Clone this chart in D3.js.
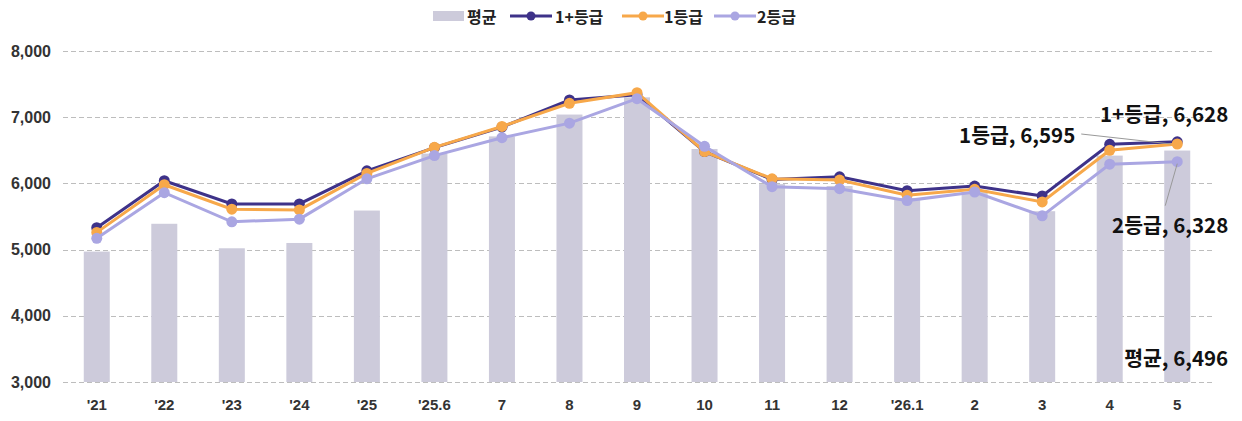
<!DOCTYPE html>
<html>
<head>
<meta charset="utf-8">
<script src="https://cdn.jsdelivr.net/npm/d3@7"></script>
<style>
  body { margin: 0; background: #fff; }
  svg { display: block; font-family: "Noto Sans CJK KR", "Noto Sans", sans-serif; }
</style>
</head>
<body>
<svg id="canvas"></svg>
<script>
// data
let categories = ["'21", "'22", "'23", "'24", "'25", "'25.6", "7", "8", "9", "10", "11", "12", "'26.1", "2", "3", "4", "5"];
let avgValues = [4970, 5390, 5020, 5100, 5590, 6450, 6710, 7040, 7300, 6520, 5990, 5960, 5780, 5870, 5580, 6420, 6496];
let grade1pValues = [5330, 6040, 5690, 5690, 6190, 6540, 6850, 7260, 7340, 6480, 6060, 6100, 5890, 5960, 5810, 6590, 6628];
let grade1Values = [5260, 5980, 5610, 5600, 6150, 6545, 6860, 7210, 7370, 6480, 6070, 6050, 5820, 5910, 5720, 6500, 6595];
let grade2Values = [5170, 5860, 5420, 5460, 6070, 6420, 6690, 6910, 7280, 6560, 5950, 5920, 5740, 5870, 5510, 6290, 6328];
let yTicks = [3000, 4000, 5000, 6000, 7000, 8000];

let width = 1242;
let height = 421;

let barColor = "#cdcbdb";
let series = [
  { name: "1+등급", values: grade1pValues, color: "#3e3289" },
  { name: "1등급", values: grade1Values, color: "#f7a84a" },
  { name: "2등급", values: grade2Values, color: "#aaa6e2" }
];

let canvas = d3.select("#canvas").attr("width", width).attr("height", height);

let xScale = d3.scaleBand()
  .domain(categories)
  .range([63, 1211])
  .paddingInner(0.615)
  .paddingOuter(0.3075);

let yScale = d3.scaleLinear()
  .domain([3000, 8000])
  .range([382, 51]);

let cx = (d) => xScale(d) + xScale.bandwidth() / 2;

// gridlines
canvas.append("g")
  .selectAll("line")
  .data(yTicks)
  .enter()
  .append("line")
  .attr("x1", 63)
  .attr("x2", 1212)
  .attr("y1", (d) => Math.round(yScale(d)) + 0.5)
  .attr("y2", (d) => Math.round(yScale(d)) + 0.5)
  .attr("stroke", "#bdbdbd")
  .attr("stroke-dasharray", "5,3");

// y axis labels
let yAxis = d3.axisLeft(yScale).tickValues(yTicks).tickFormat(d3.format(",")).tickSize(0).tickPadding(0);
let yG = canvas.append("g")
  .attr("transform", "translate(51, 0)")
  .call(yAxis);
yG.select(".domain").remove();
yG.selectAll("text")
  .attr("font-size", 16)
  .attr("font-weight", "bold")
  .attr("fill", "#333");

// x axis labels
let xAxis = d3.axisBottom(xScale).tickSize(0).tickPadding(0);
let xG = canvas.append("g")
  .attr("transform", "translate(0, 399)")
  .call(xAxis);
xG.select(".domain").remove();
xG.selectAll("text")
  .attr("font-size", 15)
  .attr("font-weight", "bold")
  .attr("fill", "#333");

// bars
canvas.append("g")
  .selectAll("rect")
  .data(avgValues)
  .enter()
  .append("rect")
  .attr("x", (d, i) => xScale(categories[i]))
  .attr("width", xScale.bandwidth())
  .attr("y", (d) => yScale(d))
  .attr("height", (d) => yScale(3000) - yScale(d))
  .attr("fill", barColor);

// lines
let line = d3.line()
  .x((d, i) => cx(categories[i]))
  .y((d) => yScale(d));

series.forEach((s) => {
  let g = canvas.append("g");
  g.append("path")
    .datum(s.values)
    .attr("d", line)
    .attr("fill", "none")
    .attr("stroke", s.color)
    .attr("stroke-width", 3);
  g.selectAll("circle")
    .data(s.values)
    .enter()
    .append("circle")
    .attr("cx", (d, i) => cx(categories[i]))
    .attr("cy", (d) => yScale(d))
    .attr("r", 5.5)
    .attr("fill", s.color);
});

// end labels
let last = categories.length - 1;
let lastX = cx(categories[last]);
let fmt = d3.format(",");
let labelFont = 20.5;

let addLabel = (text, x, y, anchor) => {
  canvas.append("text")
    .attr("x", x)
    .attr("y", y)
    .attr("text-anchor", anchor)
    .attr("dominant-baseline", "central")
    .attr("font-size", labelFont)
    .attr("font-weight", "bold")
    .attr("fill", "#111")
    .text(text);
};

let leader = (x1, y1, x2, y2) => {
  canvas.append("line")
    .attr("x1", x1).attr("y1", y1)
    .attr("x2", x2).attr("y2", y2)
    .attr("stroke", "#999")
    .attr("stroke-width", 1);
};

let p1p = yScale(grade1pValues[last]);
let p1 = yScale(grade1Values[last]);
let p2 = yScale(grade2Values[last]);

addLabel("1+등급, " + fmt(grade1pValues[last]), lastX + 51, p1p - 29, "end");
leader(lastX - 96, p1 - 10, lastX - 6, p1);
addLabel("1등급, " + fmt(grade1Values[last]), lastX - 102, p1 - 10, "end");
leader(lastX - 12, p2 + 44, lastX, p2 + 2);
addLabel("2등급, " + fmt(grade2Values[last]), lastX + 51, p2 + 62, "end");
addLabel("평균, " + fmt(avgValues[last]), lastX + 51, 357, "end");

// legend
let legend = canvas.append("g").attr("font-size", 16).attr("font-weight", "bold");
legend.append("rect")
  .attr("x", 433).attr("y", 11).attr("width", 31).attr("height", 10)
  .attr("fill", barColor);
legend.append("text").attr("x", 467).attr("y", 16).attr("dominant-baseline", "central").attr("fill", "#222").text("평균");

let legendItems = [
  { s: series[0], x: 510, tx: 555 },
  { s: series[1], x: 622, tx: 664 },
  { s: series[2], x: 714, tx: 757 }
];
legendItems.forEach((it) => {
  legend.append("line")
    .attr("x1", it.x).attr("x2", it.x + 42)
    .attr("y1", 16).attr("y2", 16)
    .attr("stroke", it.s.color).attr("stroke-width", 3);
  legend.append("circle")
    .attr("cx", it.x + 21).attr("cy", 16).attr("r", 4.5)
    .attr("fill", it.s.color);
  legend.append("text")
    .attr("x", it.tx).attr("y", 16)
    .attr("dominant-baseline", "central")
    .attr("fill", "#222")
    .text(it.s.name);
});
</script>
</body>
</html>
